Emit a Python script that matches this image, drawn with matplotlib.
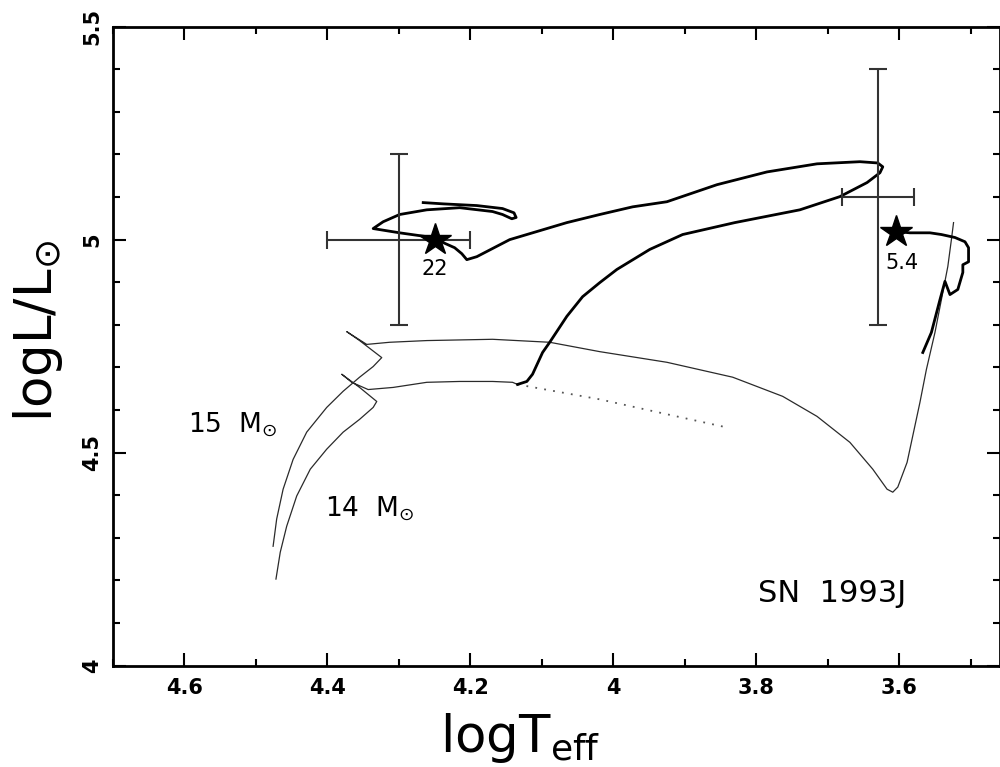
import matplotlib
matplotlib.use("Agg")
import matplotlib.pyplot as plt
from matplotlib.ticker import MultipleLocator, FuncFormatter

# 15 Msun single star track (thin)
t15 = [4.476, 4.471, 4.462, 4.448, 4.429, 4.401, 4.378, 4.355, 4.336, 4.324,
       4.355, 4.373, 4.360, 4.345,
       4.313, 4.261, 4.169, 4.089, 4.019, 3.925, 3.833, 3.763, 3.715, 3.669,
       3.637, 3.617, 3.609, 3.602, 3.589, 3.571, 3.562, 3.550, 3.541, 3.532,
       3.527, 3.524]
l15 = [4.280, 4.344, 4.414, 4.484, 4.548, 4.606, 4.644, 4.677, 4.702, 4.723,
       4.763, 4.784, 4.770, 4.754,
       4.759, 4.763, 4.766, 4.759, 4.737, 4.712, 4.677, 4.632, 4.585, 4.524,
       4.461, 4.414, 4.407, 4.419, 4.477, 4.618, 4.695, 4.782, 4.859, 4.937,
       5.000, 5.040]

# 14 Msun single star track (thin)
t14 = [4.472, 4.466, 4.457, 4.443, 4.424, 4.401, 4.378, 4.355, 4.336, 4.331,
       4.355, 4.380, 4.366, 4.343,
       4.308, 4.261, 4.215, 4.169, 4.141, 4.134]
l14 = [4.203, 4.266, 4.327, 4.398, 4.461, 4.508, 4.548, 4.578, 4.606, 4.620,
       4.653, 4.684, 4.665, 4.648,
       4.653, 4.665, 4.667, 4.667, 4.665, 4.660]

# dotted continuation of the 14 Msun track
t_dot = [4.134, 4.019, 3.925, 3.841]
l_dot = [4.660, 4.625, 4.590, 4.559]

# binary track of the accreting companion (thick), ends at 22 Msun
t22 = [4.134, 4.121, 4.113, 4.099, 4.089, 4.065, 4.043, 4.019, 3.995, 3.949,
       3.903, 3.830, 3.739, 3.683, 3.645, 3.627, 3.623, 3.630, 3.655, 3.715,
       3.785, 3.855, 3.925, 3.973, 4.019, 4.065, 4.113, 4.145, 4.191, 4.205,
       4.212, 4.222, 4.238, 4.261, 4.299, 4.336, 4.322, 4.299, 4.261, 4.215,
       4.169, 4.155, 4.142, 4.136, 4.139, 4.155, 4.191, 4.238, 4.266]
l22 = [4.660, 4.667, 4.684, 4.735, 4.759, 4.820, 4.866, 4.899, 4.930, 4.977,
       5.012, 5.040, 5.070, 5.101, 5.134, 5.157, 5.171, 5.180, 5.183, 5.178,
       5.159, 5.129, 5.089, 5.077, 5.059, 5.040, 5.016, 5.000, 4.960, 4.953,
       4.967, 4.981, 4.993, 5.007, 5.016, 5.026, 5.042, 5.059, 5.070, 5.075,
       5.066, 5.059, 5.049, 5.052, 5.063, 5.073, 5.080, 5.084, 5.087]

# binary track of the primary (thick), ends at 5.4 Msun
t54 = [3.567, 3.555, 3.543, 3.536, 3.529, 3.518, 3.511, 3.511, 3.503, 3.503,
       3.508, 3.522, 3.541, 3.557, 3.585, 3.604]
l54 = [4.735, 4.782, 4.859, 4.902, 4.871, 4.883, 4.923, 4.941, 4.948, 4.981,
       4.995, 5.005, 5.012, 5.016, 5.016, 5.019]

# observed positions with error bars
err_t = [4.30, 3.63]
err_l = [5.00, 5.10]
err_dt = [0.10, 0.05]
err_dl = [0.20, 0.30]

# final model positions
star_t = [4.25, 3.604]
star_l = [5.00, 5.019]
star_names = ["22", "5.4"]
name_t = [4.25, 3.596]
name_l = [4.93, 4.946]

plt.rcParams["font.family"] = "DejaVu Sans"

fig = plt.figure(figsize=(10, 7.67), dpi=100)
ax = fig.add_axes([0.113, 0.1323, 0.887, 0.8329])

ax.plot(t15, l15, color="#2a2a2a", lw=0.9)
ax.plot(t14, l14, color="#2a2a2a", lw=0.9)
ax.plot(t_dot, l_dot, color="#555555", lw=1.3, ls=(0, (1, 4)))
ax.plot(t22, l22, color="black", lw=2.0, solid_joinstyle="round")
ax.plot(t54, l54, color="black", lw=2.0, solid_joinstyle="round")

ax.errorbar(err_t, err_l, xerr=err_dt, yerr=err_dl, fmt="none",
            ecolor="#333333", elinewidth=1.5, capsize=6.5, capthick=1.5)
ax.plot(star_t, star_l, "*", ms=24, color="black", zorder=5)

for t, l, s in zip(name_t, name_l, star_names):
    ax.text(t, l, s, fontsize=15, ha="center", va="center")

ax.text(4.595, 4.547, r"15  M$_{\odot}$", fontsize=19, ha="left", va="baseline")
ax.text(4.403, 4.350, r"14  M$_{\odot}$", fontsize=19, ha="left", va="baseline")
ax.text(3.798, 4.148, "SN  1993J", fontsize=22, ha="left", va="baseline")

ax.set_xlim(4.7, 3.459)
ax.set_ylim(4, 5.5)
ax.xaxis.set_major_locator(MultipleLocator(0.2))
ax.xaxis.set_minor_locator(MultipleLocator(0.1))
ax.yaxis.set_major_locator(MultipleLocator(0.5))
ax.yaxis.set_minor_locator(MultipleLocator(0.1))
fmt = FuncFormatter(lambda v, p: "%g" % round(v, 2))
ax.xaxis.set_major_formatter(fmt)
ax.yaxis.set_major_formatter(fmt)

ax.tick_params(which="both", direction="in", top=True, right=True,
               width=1.5, labelsize=15)
ax.tick_params(which="major", length=9.5)
ax.tick_params(which="minor", length=5)
ax.tick_params(axis="x", pad=9)
ax.tick_params(axis="y", pad=8, labelrotation=90)
for lab in ax.get_xticklabels() + ax.get_yticklabels():
    lab.set_fontweight("bold")
for lab in ax.get_yticklabels():
    lab.set_va("center")
for sp in ax.spines.values():
    sp.set_linewidth(2)

fig.text(0.038, 0.5685, r"logL/L$_{\odot}$", fontsize=37, rotation=90,
         ha="center", va="center")
fig.text(0.52, 0.0196, r"logT$_{\rm eff}$", fontsize=37, ha="center",
         va="baseline")

fig.savefig("out.png", dpi=100)
